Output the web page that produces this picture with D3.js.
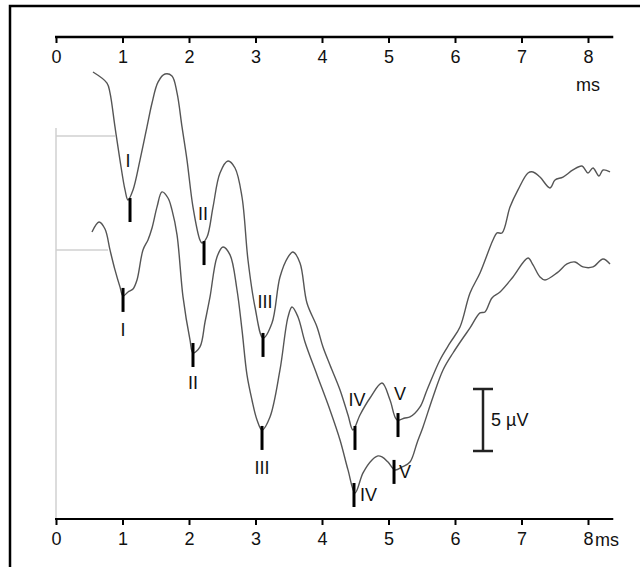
<!DOCTYPE html>
<html><head><meta charset="utf-8">
<script src="https://cdn.jsdelivr.net/npm/d3@7"></script>
<style>
body{margin:0;background:#fff}
svg{display:block}
text{font-family:"Liberation Sans",Arial,sans-serif;fill:#111}
</style>
</head><body>
<svg id="chart" width="640" height="567"></svg>
<script>
// ---------- data ----------
const tickValues = [0,1,2,3,4,5,6,7,8];
const tickLabels = ["0","1","2","3","4","5","6","7","8"];
const unitLabel = "ms";

const upperTime = [0.556,0.767,0.812,0.887,0.962,1.038,1.083,1.158,1.263,1.368,1.444,1.534,1.639,1.744,1.820,1.895,1.970,2.060,2.165,2.195,2.271,2.361,2.466,2.586,2.692,2.797,2.887,2.992,3.113,3.248,3.368,3.489,3.564,3.669,3.774,3.925,4.015,4.120,4.271,4.391,4.466,4.571,4.722,4.902,5.023,5.128,5.248,5.323,5.474,5.579,5.774,5.925,6.075,6.226,6.376,6.571,6.632,6.707,6.827,6.947,7.098,7.173,7.278,7.429,7.504,7.624,7.774,7.910,8.000,8.075,8.165,8.226,8.331];
const upperUV   = [5.16,4.27,3.47,0.73,-1.94,-4.35,-5.16,-4.35,-1.94,0.73,2.66,4.35,5.00,4.84,3.47,0.73,-1.94,-5.73,-8.39,-8.63,-8.15,-5.73,-2.98,-2.02,-2.58,-4.92,-10.00,-13.79,-16.29,-15.08,-11.37,-9.76,-9.35,-10.24,-13.47,-15.40,-17.02,-18.47,-20.48,-22.50,-23.71,-22.50,-21.13,-19.92,-21.29,-22.90,-22.74,-22.66,-21.85,-20.48,-18.06,-16.69,-15.40,-12.66,-11.05,-8.39,-7.82,-7.82,-5.73,-4.35,-2.98,-2.90,-3.31,-4.19,-3.55,-3.31,-2.74,-2.42,-2.98,-2.58,-3.23,-2.74,-2.90];

const lowerTime = [0.541,0.647,0.737,0.812,0.887,0.962,1.008,1.083,1.158,1.218,1.308,1.383,1.444,1.519,1.594,1.684,1.744,1.820,1.910,2.015,2.060,2.165,2.241,2.316,2.421,2.511,2.617,2.722,2.797,2.872,2.947,3.023,3.098,3.218,3.368,3.489,3.549,3.639,3.744,3.925,4.120,4.271,4.391,4.496,4.617,4.752,4.842,4.902,4.992,5.098,5.203,5.323,5.429,5.519,5.669,5.820,5.970,6.120,6.226,6.376,6.451,6.556,6.677,6.872,7.098,7.173,7.278,7.353,7.534,7.684,7.805,7.925,8.075,8.226,8.331];
const lowerUV   = [1.45,2.26,1.69,0.00,-1.61,-2.98,-3.71,-3.39,-3.15,-2.42,0.00,0.81,1.77,3.47,4.68,4.19,3.23,1.21,-3.79,-7.26,-8.31,-7.82,-5.81,-3.79,-0.56,0.24,-0.40,-3.23,-6.45,-10.08,-12.10,-13.71,-14.52,-13.47,-9.68,-5.40,-4.60,-5.40,-7.42,-10.08,-12.90,-15.32,-17.74,-19.60,-17.98,-16.94,-16.61,-16.69,-17.10,-17.74,-17.50,-17.10,-15.56,-14.27,-11.85,-9.68,-8.31,-7.10,-6.29,-5.08,-5.00,-3.87,-3.39,-2.18,-0.65,-1.21,-2.18,-2.42,-1.85,-1.13,-0.97,-1.37,-1.37,-0.73,-1.13];

const traceOffsetUV = [0, -9.19];          // vertical offset of each trace
const peakNames = ["I","II","III","IV","V"];
const upperPeakTime = [1.113,2.226,3.113,4.496,5.143];
const upperPeakUV   = [-5.97,-9.44,-16.85,-24.35,-23.31];
const lowerPeakTime = [1.008,2.060,3.098,4.481,5.083];
const lowerPeakUV   = [-4.03,-8.47,-15.16,-19.76,-17.90];
const scaleBarUV = 5;
const scaleBarLabel = "5 µV";

// ---------- layout ----------
const svg = d3.select("#chart");
const x = d3.scaleLinear().domain([0, 8]).range([56, 588]);
const y = d3.scaleLinear().domain([0, -5]).range([136, 198]);
const axisEnd = 8.38;
const topAxisY = 37, bottomAxisY = 519;
const FONT = 18;

// frame (top + left edges)
svg.append("path").attr("d","M10,567V6H640").attr("fill","none").attr("stroke","#000").attr("stroke-width",2.5);

// gray baseline references
svg.append("line").attr("x1",x(0)).attr("x2",x(0)).attr("y1",128).attr("y2",bottomAxisY)
  .attr("stroke","#d0d0d0").attr("stroke-width",1.5);
svg.append("line").attr("x1",x(0)).attr("x2",115).attr("y1",y(traceOffsetUV[0])).attr("y2",y(traceOffsetUV[0]))
  .attr("stroke","#d0d0d0").attr("stroke-width",1.5);
svg.append("line").attr("x1",x(0)).attr("x2",108).attr("y1",y(traceOffsetUV[1])).attr("y2",y(traceOffsetUV[1]))
  .attr("stroke","#d0d0d0").attr("stroke-width",1.5);

// axes
function drawAxis(yPos, sw){
  const ax = d3.axisBottom(x).tickValues(tickValues).tickFormat((d,i)=>tickLabels[i])
    .tickSize(6).tickSizeOuter(0).tickPadding(7);
  const g = svg.append("g").attr("transform",`translate(0,${yPos})`).call(ax);
  g.select(".domain").remove();
  g.append("line").attr("x1",x(0)-1).attr("x2",x(axisEnd)).attr("stroke","#000").attr("stroke-width",sw);
  g.selectAll(".tick line").attr("stroke","#000").attr("stroke-width",2);
  g.selectAll(".tick text").attr("font-size",FONT).attr("fill","#111")
    .attr("font-family","Liberation Sans, Arial, sans-serif");
  return g;
}
drawAxis(topAxisY, 2.5);
drawAxis(bottomAxisY, 2);
svg.append("text").attr("x",x(8)).attr("y",topAxisY+54).attr("text-anchor","middle")
  .attr("font-size",FONT).text(unitLabel);
svg.append("text").attr("x",x(8)+7).attr("y",bottomAxisY+26.5).attr("text-anchor","start")
  .attr("font-size",FONT).text(unitLabel);

// traces
const line = d3.line().x(d=>x(d[0])).y(d=>y(d[1])).curve(d3.curveCatmullRom.alpha(0.5));
const traces = [
  {t:upperTime, v:upperUV, off:traceOffsetUV[0]},
  {t:lowerTime, v:lowerUV, off:traceOffsetUV[1]}
];
traces.forEach(tr=>{
  const pts = tr.t.map((t,i)=>[t, tr.v[i]+tr.off]);
  svg.append("path").attr("d",line(pts)).attr("fill","none")
    .attr("stroke","#555").attr("stroke-width",1.4);
});

// peak markers and labels
const peakSets = [
  {t:upperPeakTime, v:upperPeakUV, off:traceOffsetUV[0],
   lab:[[-2,-50],[-1,-40],[2,-43],[2,-38],[2,-32]], anchor:"middle"},
  {t:lowerPeakTime, v:lowerPeakUV, off:traceOffsetUV[1],
   lab:[[0,30],[0,28],[0,30],[6,0],[5,0]], anchor:["middle","middle","middle","start","start"]}
];
peakSets.forEach(ps=>{
  ps.t.forEach((t,i)=>{
    const cx = x(t), cy = y(ps.v[i]+ps.off);
    svg.append("line").attr("x1",cx).attr("x2",cx).attr("y1",cy-12).attr("y2",cy+12)
      .attr("stroke","#000").attr("stroke-width",3);
    const anc = Array.isArray(ps.anchor) ? ps.anchor[i] : ps.anchor;
    svg.append("text").attr("x",cx+ps.lab[i][0]).attr("y",cy+ps.lab[i][1])
      .attr("dy","0.36em").attr("text-anchor",anc).attr("font-size",FONT)
      .text(peakNames[i]);
  });
});

// scale bar
const barLen = y(-scaleBarUV) - y(0);
const bx = 483, bTop = 389;
const bar = svg.append("g").attr("stroke","#222").attr("stroke-width",2.5);
bar.append("line").attr("x1",bx).attr("x2",bx).attr("y1",bTop).attr("y2",bTop+barLen);
bar.append("line").attr("x1",bx-10).attr("x2",bx+10).attr("y1",bTop).attr("y2",bTop);
bar.append("line").attr("x1",bx-10).attr("x2",bx+10).attr("y1",bTop+barLen).attr("y2",bTop+barLen);
svg.append("text").attr("x",bx+8).attr("y",bTop+barLen/2).attr("dy","0.36em")
  .attr("font-size",FONT).text(scaleBarLabel);
</script>
</body></html>
